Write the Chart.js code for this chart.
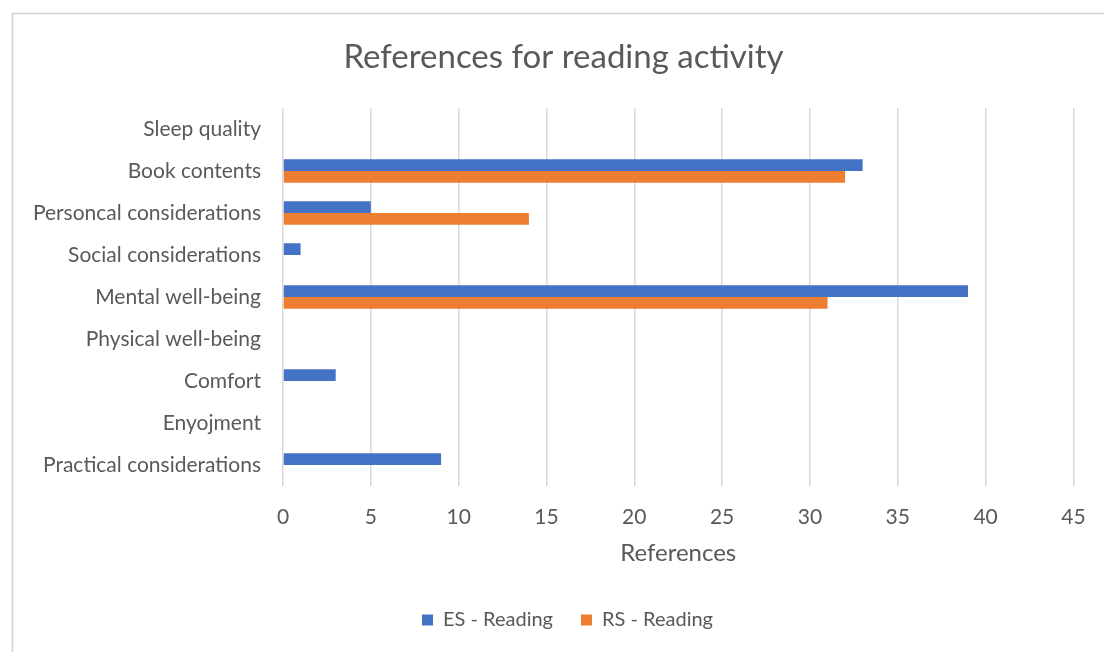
<!DOCTYPE html>
<html>
<head>
<meta charset="utf-8">
<script src="https://cdn.jsdelivr.net/npm/chart.js@4.4.1/dist/chart.umd.min.js"></script>
<style>
  html, body { margin: 0; padding: 0; background: #ffffff; }
  #wrap { position: absolute; left: 0; top: 0; width: 1104px; height: 652px; }
</style>
</head>
<body>
<div id="wrap"><canvas id="chart" width="1104" height="652"></canvas></div>
<script>
// Categories, top to bottom
const categories = [
  'Sleep quality',
  'Book contents',
  'Personcal considerations',
  'Social considerations',
  'Mental well-being',
  'Physical well-being',
  'Comfort',
  'Enyojment',
  'Practical considerations'
];

// Number of references per category
const esReading = [0, 33, 5, 1, 39, 0, 3, 0, 9];
const rsReading = [0, 32, 14, 0, 31, 0, 0, 0, 0];

const seriesNames = ['ES - Reading', 'RS - Reading'];
const xTicks = [0, 5, 10, 15, 20, 25, 30, 35, 40, 45];

const FONT = 'Lato, "Noto Sans", sans-serif';
const TEXT = '#595959';

// Thin outline of the chart panel (top and left edges)
const panelBorder = {
  id: 'panelBorder',
  beforeDraw(chart) {
    const ctx = chart.ctx;
    ctx.save();
    ctx.strokeStyle = '#d0d0d0';
    ctx.lineWidth = 1.5;
    ctx.beginPath();
    ctx.moveTo(12.5, chart.height);
    ctx.lineTo(12.5, 13.5);
    ctx.lineTo(chart.width, 13.5);
    ctx.stroke();
    ctx.restore();
  }
};

// Nudge the title and legend blocks to the right so they sit centred on the panel
const centreBlocks = {
  id: 'centreBlocks',
  afterLayout(chart) {
    if (chart.titleBlock) { chart.titleBlock.left += 19; chart.titleBlock.right += 19; }
    if (chart.legend) { chart.legend.left += 23; chart.legend.right += 23; }
  }
};

new Chart(document.getElementById('chart'), {
  type: 'bar',
  data: {
    labels: categories,
    datasets: [
      { label: seriesNames[0], data: esReading, backgroundColor: '#4472C4', borderWidth: 0 },
      { label: seriesNames[1], data: rsReading, backgroundColor: '#ED7D31', borderWidth: 0 }
    ]
  },
  options: {
    indexAxis: 'y',
    responsive: false,
    animation: false,
    devicePixelRatio: 1,
    layout: { padding: { left: 14, right: 29, top: 0, bottom: 12 } },
    datasets: { bar: { categoryPercentage: 0.56, barPercentage: 1.0 } },
    plugins: {
      title: {
        display: true,
        text: 'References for reading activity',
        color: TEXT,
        font: { family: FONT, size: 33, weight: 'normal' },
        padding: { top: 37.5, bottom: 31 }
      },
      legend: {
        position: 'bottom',
        labels: {
          color: TEXT,
          font: { family: FONT, size: 20 },
          boxWidth: 11,
          boxHeight: 11,
          padding: 28
        }
      },
      tooltip: { enabled: false }
    },
    scales: {
      x: {
        min: 0,
        max: 45,
        afterBuildTicks(scale) { scale.ticks = xTicks.map(v => ({ value: v })); },
        grid: { color: '#d9d9d9', lineWidth: 1.5, drawTicks: false },
        border: { display: false },
        ticks: { color: TEXT, font: { family: FONT, size: 21 }, padding: 18.4 },
        title: {
          display: true,
          text: 'References',
          color: TEXT,
          font: { family: FONT, size: 24 },
          padding: { top: 8, bottom: 14 }
        },
        afterFit(scale) { scale.height = 96; }
      },
      y: {
        grid: { display: false, drawTicks: false },
        border: { display: false },
        ticks: { color: TEXT, font: { family: FONT, size: 21 }, padding: 22 },
        afterFit(scale) { scale.width = 269; }
      }
    }
  },
  plugins: [panelBorder, centreBlocks]
});
</script>
</body>
</html>
